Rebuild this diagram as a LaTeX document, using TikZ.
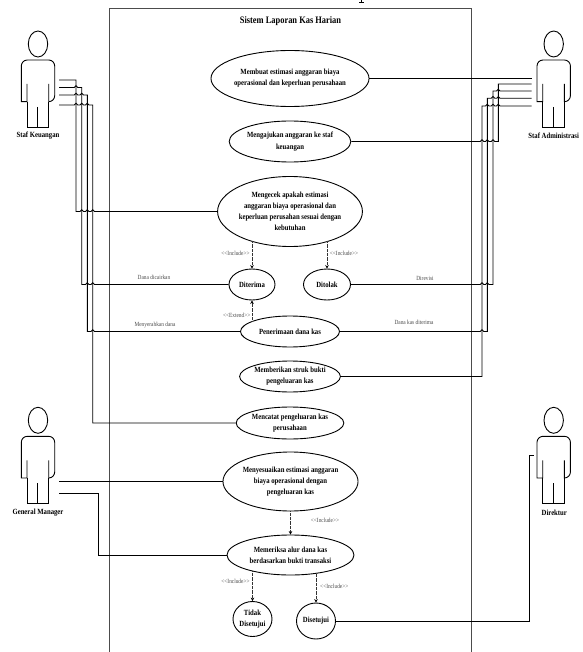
\documentclass[tikz,border=0pt]{standalone}
\usepackage{fontspec}
\setmainfont[FakeStretch=0.85]{Liberation Serif}
\usetikzlibrary{arrows.meta, shapes.geometric}
\newcommand{\hop}[2]{-- (#1-1.7,#2) arc (180:360:1.7)}
\tikzset{
    usecase/.style={draw, ellipse, line width=0.9pt, inner sep=0pt, align=center, font=\fontsize{7.9}{11.2}\selectfont\bfseries},
    actorname/.style={font=\fontsize{7.9}{10}\selectfont\bfseries},
    wire/.style={line width=0.9pt},
    incl/.style={line width=0.7pt, black!80, dash pattern=on 0.7pt off 0.6pt, -{Stealth[length=3.5pt,width=3.5pt,black]}},
    note/.style={black!70, font=\fontsize{6.3}{8}\selectfont}
}
\begin{document}
\begin{tikzpicture}[x=1pt,y=-1pt]
            \useasboundingbox (0,0) rectangle (582,652);
            \draw[line width=1pt, black!70] (109,652)--(109,8.5)--(471.3,8.5)--(471.3,652);
            \draw[line width=0.8pt] (359,2.2)--(364,2.2) (361.5,0)--(361.5,2.2);
            \foreach \ax/\ay in {0/0,515.7/0,0/376.3,515.7/376.3}{
                \begin{scope}[shift={(\ax,\ay)}]
                    \draw[wire] (38,44) ellipse (9.7 and 13);
                    \draw[wire] (27,84)--(27,101.7)--(21.3,101.7)[rounded corners=6pt]--(21.3,60)--(54.7,60)--(54.7,101.7)[sharp corners]--(48.7,101.7)--(48.7,84);
                    \draw[wire] (27,101.7)--(27,127.3)--(48.7,127.3)--(48.7,101.7);
                    \draw[wire] (37.7,107)--(37.7,127.3);
                \end{scope}
            }
            \node[actorname] (keuangan) at (38,136) {Staf Keuangan};
            \node[actorname] (administrasi) at (553.7,136) {Staf Administrasi};
            \node[actorname] (manager) at (38,513) {General Manager};
            \node[actorname] (direktur) at (554.3,513) {Direktur};
            \node[font=\fontsize{9.9}{12}\selectfont\bfseries] (sistem) at (290.5,21.3) {Sistem Laporan Kas Harian};
            \node[usecase, minimum width=148pt, minimum height=56pt] (membuat) at (290,78.5) {Membuat estimasi anggaran biaya\\operasional dan keperluan perusahaan};
            \node[usecase, minimum width=116pt, minimum height=41pt] (mengajukan) at (290,141.5) {Mengajukan anggaran ke staf\\keuangan};
            \node[usecase, minimum width=124pt, minimum height=70pt] (mengecek) at (290,211.5) {Mengecek apakah estimasi\\anggaran biaya operasional dan\\keperluan perusahan sesuai dengan\\kebutuhan};
            \node[usecase, minimum width=46pt, minimum height=31pt] (diterima) at (252,284.5) {Diterima};
            \node[usecase, minimum width=47pt, minimum height=31pt] (ditolak) at (327,284.5) {Ditolak};
            \node[usecase, minimum width=99pt, minimum height=31pt] (penerimaan) at (290,331.5) {Penerimaan dana kas};
            \node[usecase, minimum width=99pt, minimum height=31pt] (memberikan) at (290,376.5) {Memberikan struk bukti\\pengeluaran kas};
            \node[usecase, minimum width=99pt, minimum height=32pt] (mencatat) at (290,423) {Mencatat pengeluaran kas\\perusahaan};
            \node[usecase, minimum width=127pt, minimum height=59pt] (menyesuaikan) at (290.5,481.5) {Menyesuaikan estimasi anggaran\\biaya operasional dengan\\pengeluaran kas};
            \node[usecase, minimum width=127pt, minimum height=40pt] (memeriksa) at (290.5,555) {Memeriksa alur dana kas\\berdasarkan bukti transaksi};
            \node[usecase, minimum width=39pt, minimum height=35pt] (tidak) at (252.5,619) {Tidak\\Disetujui};
            \node[usecase, minimum width=39pt, minimum height=36pt] (disetujui) at (316,621) {Disetujui};
            \coordinate (ka) at (59,80);
            \coordinate (kb) at (59,87.5);
            \coordinate (kc) at (59,95);
            \coordinate (kd) at (59,105);
            \coordinate (aa) at (531.7,78.5);
            \coordinate (ab) at (531.7,84);
            \coordinate (ac) at (531.7,91);
            \coordinate (ad) at (531.7,98.3);
            \coordinate (ae) at (531.7,106);
            \coordinate (ma) at (59,481.5);
            \coordinate (mb) at (59,493.7);
            \coordinate (da) at (533.7,455);
            \draw[wire] (ka)--(76,80)--(76,211.5) \hop{81.7}{211.5} \hop{87.3}{211.5} \hop{92.7}{211.5} --(mengecek.west);
            \draw[wire] (kb) \hop{76}{87.5} --(81.7,87.5)--(81.7,284.5) \hop{87.3}{284.5} \hop{92.7}{284.5} --(diterima.west);
            \draw[wire] (kc) \hop{76}{95} \hop{81.7}{95} --(87.3,95)--(87.3,331.5) \hop{92.7}{331.5} --(penerimaan.west);
            \draw[wire] (kd) \hop{76}{105} \hop{81.7}{105} \hop{87.3}{105} --(92.7,105)--(92.7,423)--(mencatat.west);
            \draw[wire] (membuat.east)--(aa);
            \draw[wire] (mengajukan.east) \hop{482}{141.5} \hop{487.3}{141.5} \hop{493}{141.5} --(498.3,141.5)--(498.3,84)--(ab);
            \draw[wire] (ditolak.east) \hop{482}{284.5} \hop{487.3}{284.5} --(493,284.5)--(493,91) \hop{498.3}{91} --(ac);
            \draw[wire] (penerimaan.east) \hop{482}{331.5} --(487.3,331.5)--(487.3,98.3) \hop{493}{98.3} \hop{498.3}{98.3} --(ad);
            \draw[wire] (memberikan.east)--(482,376.5)--(482,106) \hop{487.3}{106} \hop{493}{106} \hop{498.3}{106} --(ae);
            \draw[wire] (ma)--(menyesuaikan.west);
            \draw[wire] (mb)--(98.3,493.7)--(98.3,555)--(memeriksa.west);
            \draw[wire] (da)--(529,455)--(529,621)--(disetujui.east);
            \draw[incl] (diterima.north |- mengecek.-144)--(diterima.north);
            \draw[incl] (ditolak.north |- mengecek.-36)--(ditolak.north);
            \draw[incl] (diterima.south |- penerimaan.165)--(diterima.south);
            \draw[incl] (menyesuaikan.south)--(memeriksa.north);
            \draw[incl] (tidak.north |- memeriksa.-157)--(tidak.north);
            \draw[incl] (disetujui.north |- memeriksa.-35)--(disetujui.north);
            \node[note] (incla) at (235.5,253.3) {<{}<Include>{}>};
            \node[note] (inclb) at (344,253.3) {<{}<Include>{}>};
            \node[note] (extend) at (236.7,315.7) {<{}<Extend>{}>};
            \node[note] (inclc) at (325,520.3) {<{}<Include>{}>};
            \node[note] (incld) at (235.5,581.7) {<{}<Include>{}>};
            \node[note] (incle) at (334.3,586.3) {<{}<Include>{}>};
            \node[note] (dicairkan) at (154,277.3) {Dana dicairkan};
            \node[note] (direvisi) at (425,278.7) {Direvisi};
            \node[note] (menyerahkan) at (155,324.7) {Menyerahkan dana};
            \node[note] (diterimakas) at (414,322.7) {Dana kas diterima};
        \end{tikzpicture}
\end{document}
